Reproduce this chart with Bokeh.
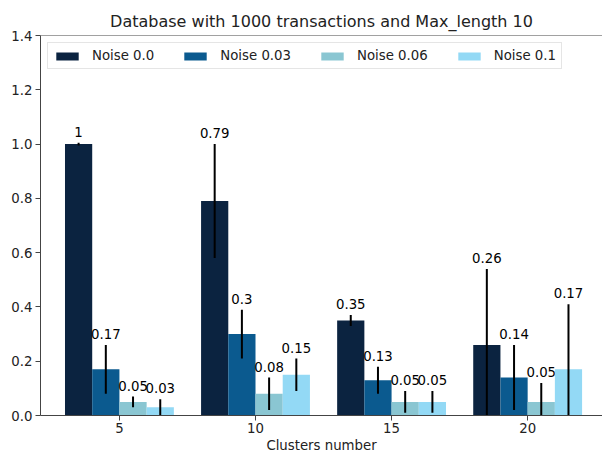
from bokeh.plotting import figure
from bokeh.models import FixedTicker, NumeralTickFormatter, Span, ColumnDataSource, Range1d
from bokeh.core.properties import value
from bokeh.embed import file_html
from bokeh.resources import INLINE

clusters = ["5", "10", "15", "20"]
series_names = ["Noise 0.0", "Noise 0.03", "Noise 0.06", "Noise 0.1"]
noise_00 = [1.0, 0.79, 0.35, 0.26]
noise_003 = [0.17, 0.30, 0.13, 0.14]
noise_006 = [0.05, 0.08, 0.05, 0.05]
noise_01 = [0.03, 0.15, 0.05, 0.17]
err_00 = [0.005, 0.21, 0.02, 0.28]
err_003 = [0.09, 0.09, 0.05, 0.12]
err_006 = [0.02, 0.06, 0.04, 0.07]
err_01 = [0.03, 0.06, 0.04, 0.24]
y_ticks = [0.0, 0.2, 0.4, 0.6, 0.8, 1.0, 1.2, 1.4]

values = [noise_00, noise_003, noise_006, noise_01]
errors = [err_00, err_003, err_006, err_01]
colors = ["#0b2340", "#0b5a8f", "#8ac6d2", "#93d9f5"]
offsets = [-0.3, -0.1, 0.1, 0.3]
bar_w = 0.2

FONT = "DejaVu Sans"

p = figure(width=602, height=457, output_backend="svg", toolbar_location=None,
           x_range=Range1d(-0.58, 3.55), y_range=Range1d(0, 1.4),
           title="Database with 1000 transactions and Max_length 10",
           min_border_left=40, min_border_right=0, min_border_top=35, min_border_bottom=42)

p.outline_line_color = None
p.xgrid.visible = False
p.ygrid.visible = False
p.background_fill_color = "white"
p.border_fill_color = "white"

idx = list(range(len(clusters)))
for k in range(4):
    xs = [i + offsets[k] for i in idx]
    vals = values[k]
    errs = errors[k]
    src = ColumnDataSource(dict(
        x=xs, top=vals,
        lo=[v - e for v, e in zip(vals, errs)],
        hi=[v + e for v, e in zip(vals, errs)],
        lab=[f"{v:g}" for v in vals],
    ))
    p.vbar(x="x", top="top", width=bar_w, bottom=0, source=src,
           fill_color=colors[k], line_color=None, legend_label=series_names[k])
    p.segment(x0="x", y0="lo", x1="x", y1="hi", source=src, line_color="black", line_width=2)
    p.text(x="x", y="hi", text="lab", source=src, text_align="center", text_baseline="bottom",
           y_offset=-6, text_font=value(FONT), text_font_size="13.3px", text_color="black")

top_line = Span(location=1.4, dimension="width", line_color="#444444", line_width=1)
p.add_layout(top_line)

# axes
p.xaxis.ticker = FixedTicker(ticks=idx)
p.xaxis.major_label_overrides = {i: c for i, c in zip(idx, clusters)}
p.yaxis.ticker = FixedTicker(ticks=y_ticks)
p.yaxis.formatter = NumeralTickFormatter(format="0.0")
for ax in (p.xaxis, p.yaxis):
    ax.axis_line_color = "#444444"
    ax.major_tick_line_color = "#444444"
    ax.major_tick_out = 5
    ax.major_tick_in = 0
    ax.minor_tick_line_color = None
    ax.major_label_text_font = FONT
    ax.major_label_text_font_size = "13.3px"
    ax.major_label_text_color = "#222222"
    ax.major_label_standoff = 3
p.xaxis.major_label_standoff = 2
p.xaxis.axis_label = "Clusters number"
p.xaxis.axis_label_text_font = FONT
p.xaxis.axis_label_text_font_size = "13.3px"
p.xaxis.axis_label_text_font_style = "normal"
p.xaxis.axis_label_text_color = "#222222"
p.xaxis.axis_label_standoff = 2

p.title.text_font = FONT
p.title.text_font_size = "16px"
p.title.text_font_style = "normal"
p.title.text_color = "#222222"
p.title.align = "center"

lg = p.legend[0]
lg.location = "top_left"
lg.orientation = "horizontal"
lg.margin = 7
lg.padding = 5
lg.spacing = 27
lg.glyph_width = 28
lg.glyph_height = 10
lg.label_height = 13
lg.label_standoff = 11
lg.label_text_font = FONT
lg.label_text_font_size = "13.3px"
lg.label_text_color = "#222222"
lg.border_line_color = "#cccccc"
lg.border_line_width = 1
lg.background_fill_alpha = 0.8

open("out.html", "w").write(file_html(p, INLINE))
